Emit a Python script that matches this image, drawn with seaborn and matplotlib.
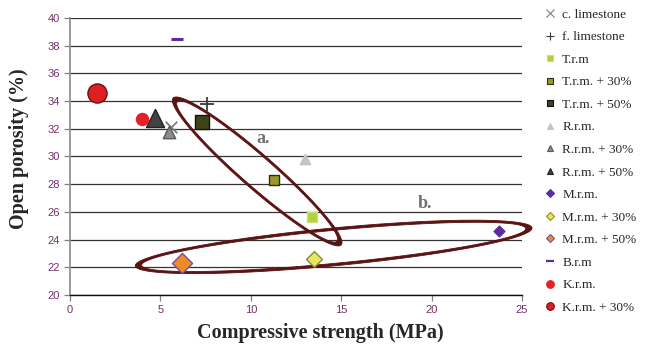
import numpy as np
import matplotlib
matplotlib.use("Agg")
import matplotlib.pyplot as plt
import seaborn as sns
from matplotlib.lines import Line2D
from matplotlib.path import Path
from matplotlib.patches import PathPatch

# series
names = ["c. limestone", "f. limestone", "T.r.m", "T.r.m. + 30%", "T.r.m. + 50%",
         "R.r.m.", "R.r.m. + 30%", "R.r.m. + 50%", "M.r.m.", "M.r.m. + 30%",
         "M.r.m. + 50%", "B.r.m", "K.r.m.", "K.r.m. + 30%"]
strength = [5.6, 7.6, 13.4, 11.3, 7.3, 13.0, 5.5, 4.7, 23.7, 13.5, 6.2, 5.9, 4.0, 1.5]
porosity = [32.1, 33.8, 25.6, 28.3, 32.5, 29.8, 31.8, 32.8, 24.6, 22.6, 22.3, 38.5, 32.7, 34.6]

x_ticks = [0, 5, 10, 15, 20, 25]
y_ticks = [20, 22, 24, 26, 28, 30, 32, 34, 36, 38, 40]

# marker, face colour, edge colour, size (points^2)
styles = {
    "c. limestone": ("x", "#7f7f7f", "#7f7f7f", 70),
    "f. limestone": ("+", "#3a3a3a", "#3a3a3a", 110),
    "T.r.m": ("s", "#b3d13a", "#c9e07a", 45),
    "T.r.m. + 30%": ("s", "#9a9a28", "#2e2e10", 45),
    "T.r.m. + 50%": ("s", "#3e4418", "#111111", 105),
    "R.r.m.": ("^", "#c4c4c4", "#c4c4c4", 55),
    "R.r.m. + 30%": ("^", "#8c8c8c", "#5a5a5a", 80),
    "R.r.m. + 50%": ("^", "#424242", "#222222", 170),
    "M.r.m.": ("D", "#5b2ca0", "#5b2ca0", 30),
    "M.r.m. + 30%": ("D", "#e8e860", "#8a8a30", 65),
    "M.r.m. + 50%": ("D", "#f08a24", "#7050a0", 105),
    "B.r.m": ("_", "#5b2ca0", "#5b2ca0", 70),
    "K.r.m.": ("o", "#e3202a", "#e3202a", 75),
    "K.r.m. + 30%": ("o", "#dd1f26", "#6a1010", 190),
}

# the two hand-drawn ellipses: centre, half major axis, half minor axis (data units)
ellipse_a = dict(c=(10.35, 28.92), u=(4.65, -5.30), v=(0.62, 0.92), ea=0.05, eb=0.12)
ellipse_b = dict(c=(14.58, 23.47), u=(10.97, 1.37), v=(0.10, -1.36), ea=0.032, eb=0.13)

sns.set_style("white")
plt.rcParams["font.family"] = ["Liberation Serif", "DejaVu Serif"]

fig = plt.figure(figsize=(6.51, 3.47), dpi=100)
ax = fig.add_axes([0.1075, 0.150, 0.6945, 0.798])

for i, name in enumerate(names):
    m, fc, ec, s = styles[name]
    lw = 1.0
    if m in ("x", "+"):
        lw = 1.3
    if m == "_":
        lw = 2.2
    sns.scatterplot(x=[strength[i]], y=[porosity[i]], marker=m, s=s,
                    color=fc, edgecolor=ec, linewidth=lw, ax=ax, zorder=4, legend=False)


def ring(e):
    t = np.linspace(0, 2 * np.pi, 300)
    c, u, v = np.array(e["c"]), np.array(e["u"]), np.array(e["v"])
    outer = c + np.outer(np.cos(t), u) + np.outer(np.sin(t), v)
    inner = c + np.outer(np.cos(t), u) * (1 - e["ea"]) + np.outer(np.sin(t), v) * (1 - e["eb"])
    inner = inner[::-1]
    verts = np.vstack([outer, inner])
    codes = ([Path.MOVETO] + [Path.LINETO] * (len(outer) - 2) + [Path.CLOSEPOLY]) * 2
    return Path(verts, codes)


for e in (ellipse_a, ellipse_b):
    ax.add_patch(PathPatch(ring(e), facecolor="#5a1212", edgecolor="#5a1212",
                           linewidth=0.6, zorder=3, clip_on=False))

ax.text(10.7, 31.3, "a.", fontsize=13, fontweight="bold", color="#707070",
        ha="center", va="center")
ax.text(19.6, 26.6, "b.", fontsize=13, fontweight="bold", color="#707070",
        ha="center", va="center")

ax.set_xlim(0, 25)
ax.set_ylim(20, 40)
ax.set_xticks(x_ticks)
ax.set_yticks(y_ticks)
ax.yaxis.grid(True, color="#333333", linewidth=0.9)
ax.xaxis.grid(False)
for lab in ax.get_xticklabels() + ax.get_yticklabels():
    lab.set_fontfamily("Liberation Sans")
    lab.set_fontsize(8)
    lab.set_color("#73306a")
ax.tick_params(axis="both", which="major", direction="out", length=4, width=0.9,
               color="#808080", left=True, bottom=True, pad=3)
for side in ("top", "right"):
    ax.spines[side].set_visible(False)
ax.spines["left"].set_color("#8a8a8a")
ax.spines["left"].set_linewidth(1.2)
ax.spines["bottom"].set_color("#111111")
ax.spines["bottom"].set_linewidth(1.0)

ax.set_xlabel("Compressive strength (MPa)", fontsize=14.5, fontweight="bold")
ax.set_ylabel("Open porosity (%)", fontsize=14.5, fontweight="bold")
ax.xaxis.set_label_coords(0.553, -0.10)
ax.yaxis.set_label_coords(-0.09, 0.53)

handles = []
for name in names:
    m, fc, ec, s = styles[name]
    if m in ("x", "+", "_"):
        h = Line2D([], [], linestyle="none", marker=m, markersize=6,
                   markeredgecolor=fc, markeredgewidth=1.6 if m == "_" else 0.8)
    else:
        ms = {"s": 5, "^": 5, "D": 4, "o": 5.5}[m]
        h = Line2D([], [], linestyle="none", marker=m, markersize=ms,
                   markerfacecolor=fc, markeredgecolor=ec, markeredgewidth=0.8)
    handles.append(h)
ax.legend(handles, names, loc="upper left", bbox_to_anchor=(0.821, 1.0),
          bbox_transform=fig.transFigure, frameon=False, fontsize=9.5,
          handlelength=1.0, handletextpad=0.45, labelspacing=0.78, borderpad=0.15)

fig.savefig("out.png", dpi=100)
